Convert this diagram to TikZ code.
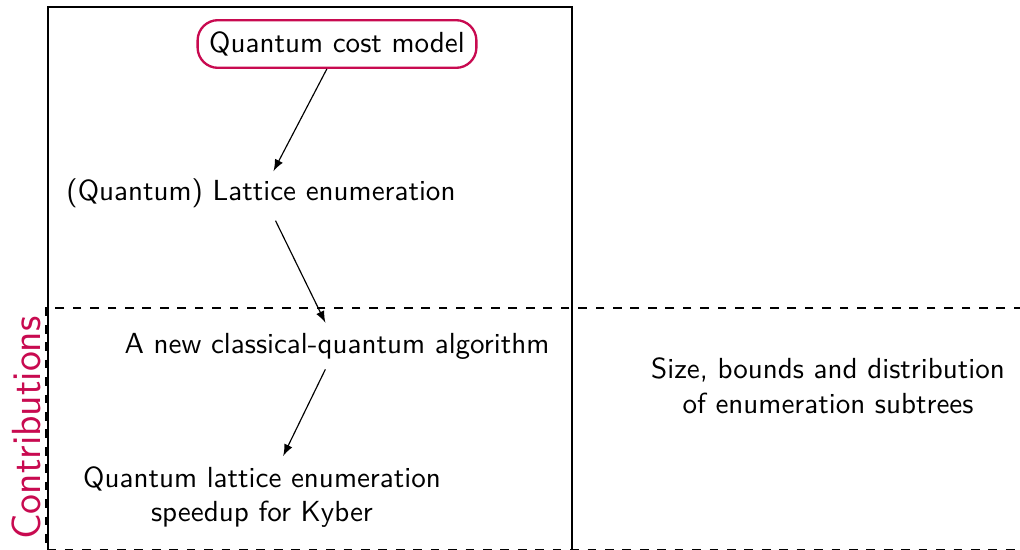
\documentclass[tikz,border=0pt]{standalone}
\usepackage{xcolor}
\usepackage{tikz}
\definecolor{contrib}{RGB}{200,10,80}

\begin{document}
\begin{tikzpicture}[x=0.0121cm,y=-0.0121cm,font=\sffamily,
    txt/.style={align=center},
    costbox/.style={draw=contrib,thick,rounded corners=7pt,inner sep=4pt},
    arr/.style={-latex,thin}]
  \useasboundingbox (0,0) rectangle (1020,550);
  \draw[line width=0.35pt] (48,7) rectangle (572,553);
  \draw[thick,dashed] (1040,308) -- (46,308) -- (46,550) -- (1040,550);
  \node[costbox] (cost) at (337,44) {Quantum cost model};
  \node[txt] (lattice) at (261,193) {(Quantum) Lattice enumeration};
  \node[txt] (algo) at (337,346) {A new classical-quantum algorithm};
  \node[txt] (kyber) at (262,497) {Quantum lattice enumeration\\speedup for Kyber};
  \node[txt] (subtrees) at (828,386) {Size, bounds and distribution\\of enumeration subtrees};
  \node[rotate=90,text=contrib,font=\sffamily\fontsize{14}{16}\selectfont] (contrib) at (26,428) {Contributions};
  \draw[arr] ([xshift=-3.5pt]cost.south) -- ([xshift=4.3pt,yshift=-1pt]lattice.north);
  \draw[arr] ([xshift=5pt,yshift=-1pt]lattice.south) -- ([xshift=-4pt,yshift=0pt]algo.north);
  \draw[arr] ([xshift=-4pt,yshift=0pt]algo.south) -- ([xshift=7.3pt,yshift=0pt]kyber.north);
\end{tikzpicture}
\end{document}
